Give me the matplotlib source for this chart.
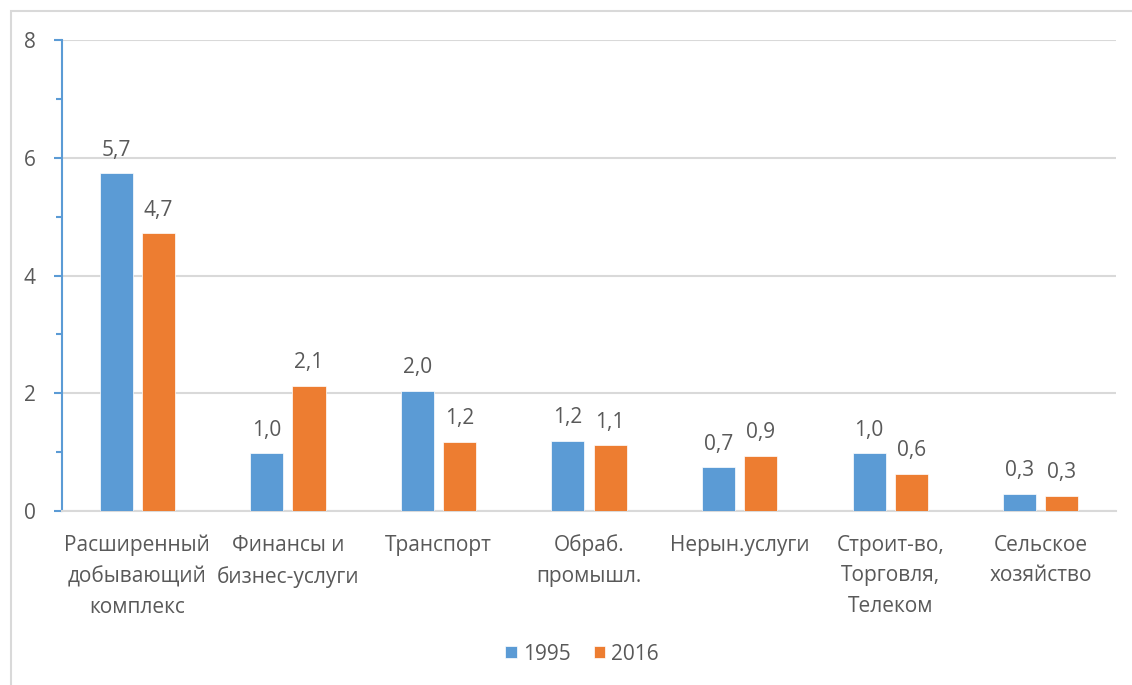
import matplotlib
matplotlib.use("Agg")
import matplotlib.pyplot as plt
import numpy as np
from matplotlib.patches import Rectangle
from matplotlib.ticker import MultipleLocator

categories = ["Расширенный\nдобывающий\nкомплекс", "Финансы и\nбизнес-услуги", "Транспорт",
              "Обраб.\nпромышл.", "Нерын.услуги", "Строит-во,\nТорговля,\nТелеком",
              "Сельское\nхозяйство"]
series_names = ["1995", "2016"]
values_1995 = [5.74, 0.98, 2.04, 1.19, 0.74, 0.98, 0.29]
values_2016 = [4.72, 2.13, 1.18, 1.12, 0.94, 0.63, 0.26]
yticks = [0, 2, 4, 6, 8]

blue = "#5B9BD5"
orange = "#ED7D31"
txt = "#595959"
grid = "#D9D9D9"

plt.rcParams["font.family"] = ["Open Sans", "DejaVu Sans"]
fs = 15

fig = plt.figure(figsize=(11.32, 6.85), dpi=100)
fig.patches.append(Rectangle((11/1132, -0.1), 1.2, 1 - 11/685 + 0.1, transform=fig.transFigure,
                             fill=False, edgecolor="#D9D9D9", linewidth=1.5))
ax = fig.add_axes([62/1132, 1 - 511/685, (1116 - 62)/1132, (511 - 40)/685])

x = np.arange(len(categories))
w = 0.22
off = 0.14
b1 = ax.bar(x - off, values_1995, w, color=blue, label=series_names[0], zorder=3,
            edgecolor="white", linewidth=0.5)
b2 = ax.bar(x + off, values_2016, w, color=orange, label=series_names[1], zorder=3,
            edgecolor="white", linewidth=0.5)
for bars in (b1, b2):
    for r in bars:
        h = r.get_height()
        ax.annotate(f"{h:.1f}".replace(".", ","), (r.get_x() + r.get_width() / 2, h),
                    xytext=(0, 9), textcoords="offset points", ha="center", va="bottom",
                    fontsize=fs, color=txt)

ax.set_xlim(-0.5, len(categories) - 0.5)
ax.set_ylim(0, 8)
ax.set_yticks(yticks)
ax.set_yticklabels([str(t) for t in yticks])
ax.yaxis.set_minor_locator(MultipleLocator(1))
ax.grid(axis="y", color=grid, linewidth=1.5, zorder=0)
ax.set_axisbelow(True)

for s in ["top", "right"]:
    ax.spines[s].set_visible(False)
ax.spines["left"].set_color(blue)
ax.spines["left"].set_linewidth(1.5)
ax.spines["bottom"].set_color(grid)
ax.spines["bottom"].set_linewidth(1.5)

ax.tick_params(axis="y", which="major", length=6, width=1.5, color=blue, labelcolor=txt,
               labelsize=fs, pad=13)
ax.tick_params(axis="y", which="minor", length=4, width=1.5, color=blue)
ax.set_xticks(x)
ax.set_xticklabels(categories, fontsize=fs, color=txt, linespacing=1.6)
ax.tick_params(axis="x", length=0, pad=17)

leg = fig.legend(handles=[b1, b2], labels=series_names, loc="center", bbox_to_anchor=(582/1132, 1 - 654/685),
                 ncol=2, frameon=False, fontsize=fs, handlelength=0.55, handleheight=0.55,
                 handletextpad=0.3, columnspacing=1.1, labelcolor=txt)

fig.savefig("out.png", dpi=100, facecolor="white")
